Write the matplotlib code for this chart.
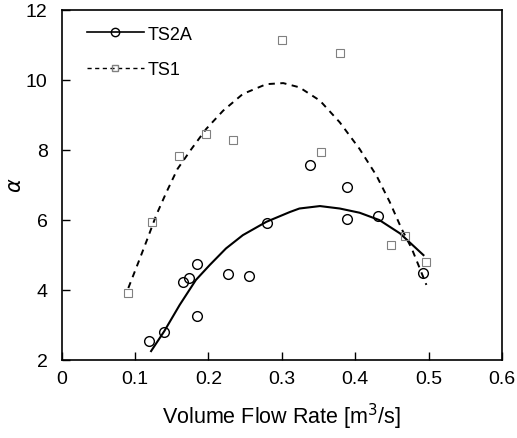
import matplotlib
matplotlib.use('Agg')
import matplotlib.pyplot as plt

plt.rcParams['font.family'] = ['Liberation Sans', 'DejaVu Sans']

# measured points
ts2a_x = [0.119, 0.140, 0.166, 0.173, 0.185, 0.185, 0.227, 0.255, 0.280,
          0.339, 0.389, 0.389, 0.431, 0.492]
ts2a_y = [2.55, 2.80, 4.21, 4.33, 4.74, 3.26, 4.46, 4.39, 5.92,
          7.57, 6.92, 6.01, 6.11, 4.49]

ts1_x = [0.091, 0.123, 0.160, 0.197, 0.234, 0.300, 0.353, 0.380, 0.449, 0.468, 0.497]
ts1_y = [3.90, 5.94, 7.82, 8.46, 8.27, 11.13, 7.93, 10.75, 5.27, 5.54, 4.78]

# fitted curves
fit2a_x = [0.122, 0.140, 0.161, 0.183, 0.202, 0.224, 0.247, 0.279, 0.311,
           0.324, 0.352, 0.379, 0.406, 0.433, 0.461, 0.493]
fit2a_y = [2.25, 2.82, 3.57, 4.28, 4.71, 5.18, 5.56, 5.94, 6.22,
           6.32, 6.39, 6.32, 6.20, 5.99, 5.61, 4.99]

fit1_x = [0.091, 0.105, 0.118, 0.129, 0.143, 0.158, 0.177, 0.197, 0.220,
          0.247, 0.279, 0.302, 0.324, 0.352, 0.379, 0.406, 0.429, 0.447,
          0.463, 0.477, 0.488, 0.497]
fit1_y = [4.05, 4.80, 5.51, 6.13, 6.79, 7.45, 8.02, 8.59, 9.11,
          9.59, 9.87, 9.90, 9.78, 9.40, 8.78, 8.02, 7.26, 6.51,
          5.75, 5.18, 4.61, 4.14]

fig = plt.figure(figsize=(5.17, 4.39), dpi=100)
ax = fig.add_axes([0.119, 0.178, 0.852, 0.798])

ax.plot(fit2a_x, fit2a_y, color='black', lw=1.5)
ax.plot(fit1_x, fit1_y, color='black', lw=1.4, ls=(0, (3.2, 2.8)))
ax.plot(ts2a_x, ts2a_y, ls='none', marker='o', ms=7, mfc='none', mec='black', mew=1.0)
ax.plot(ts1_x, ts1_y, ls='none', marker='s', ms=6, mfc='none', mec='#808080', mew=0.8)

# legend drawn as proxies
ax.plot([], [], color='black', lw=1.2, marker='o', ms=6, mfc='none', mec='black', label='TS2A')
ax.plot([], [], color='black', lw=1.0, ls=(0, (3, 2.5)), marker='s', ms=4, mfc='none',
        mec='#808080', label='TS1')
handles, labels = ax.get_legend_handles_labels()
ax.legend(handles[-2:], labels[-2:], loc='upper left', frameon=False, fontsize=13,
          handlelength=3.2, handletextpad=0.2, labelspacing=1.0,
          bbox_to_anchor=(0.02, 1.0))

ax.set_xlim(0, 0.6)
ax.set_ylim(2, 12)
ax.set_xticks([0, 0.1, 0.2, 0.3, 0.4, 0.5, 0.6])
ax.set_xticklabels(['0', '0.1', '0.2', '0.3', '0.4', '0.5', '0.6'])
ax.set_yticks([2, 4, 6, 8, 10, 12])
ax.tick_params(direction='in', length=6, labelsize=14, width=1)
ax.tick_params(axis='x', pad=7)
ax.tick_params(axis='y', pad=10)
for s in ax.spines.values():
    s.set_linewidth(1.2)

ax.set_xlabel('Volume Flow Rate [m$^3$/s]', fontsize=15.5, labelpad=10)
ax.set_ylabel(r'$\alpha$', fontsize=15)
ax.yaxis.set_label_coords(-0.082, 0.5)

fig.savefig('out.png', dpi=100)
